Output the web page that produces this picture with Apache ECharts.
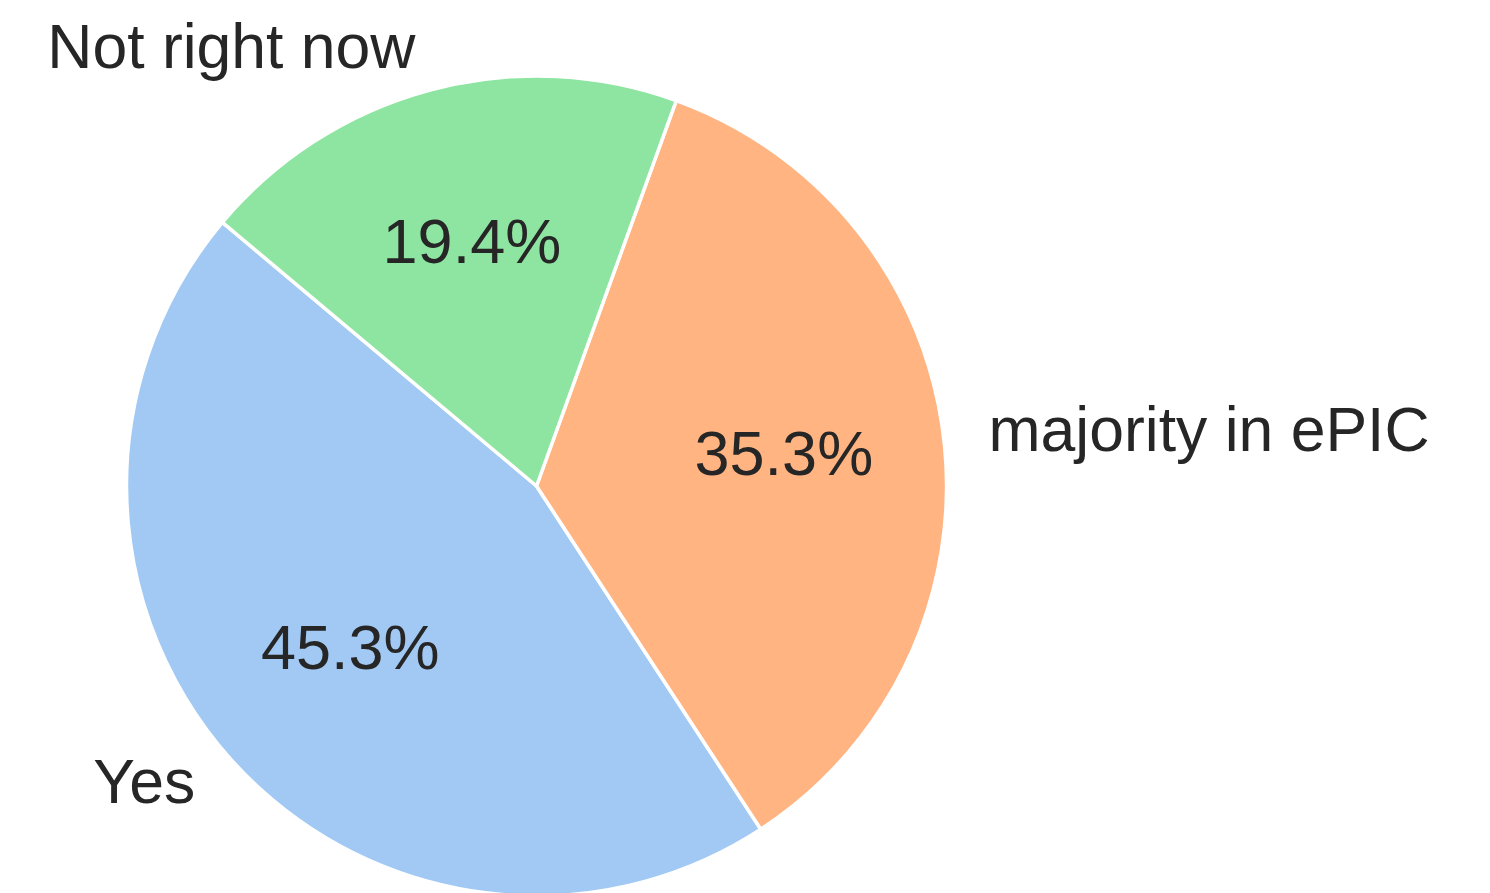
<!DOCTYPE html>
<html>
<head>
<meta charset="utf-8">
<style>
  html, body { margin: 0; padding: 0; background: #ffffff; }
  #chart { width: 1490px; height: 893px; }
</style>
<script src="https://cdn.jsdelivr.net/npm/echarts@6/dist/echarts.min.js"></script>
</head>
<body>
<div id="chart"></div>
<script>
// Data
const categories = ['Yes', 'majority in ePIC', 'Not right now'];
const counts = [63, 49, 27];
const colors = ['#a1c9f4', '#ffb482', '#8de5a1'];

const total = counts.reduce((a, b) => a + b, 0);
const R = 410;
const CENTER = [536.5, 486];
const FONT = 'Liberation Sans, Arial, Helvetica, sans-serif';
const TEXT_COLOR = '#262626';

const mainData = categories.map((c, i) => ({
  name: c, value: counts[i], itemStyle: { color: colors[i] }
}));
const ghostData = categories.map((c, i) => ({ name: c, value: counts[i] }));

const chart = echarts.init(document.getElementById('chart'), null, { renderer: 'canvas' });
chart.setOption({
  animation: false,
  backgroundColor: '#ffffff',
  series: [
    {
      type: 'pie',
      center: CENTER,
      radius: R,
      startAngle: 140,
      clockwise: false,
      avoidLabelOverlap: false,
      silent: true,
      emphasis: { disabled: true, scale: false },
      itemStyle: { borderColor: '#ffffff', borderWidth: 3.5 },
      label: {
        show: true,
        position: 'outside',
        formatter: '{b}',
        fontFamily: FONT,
        fontSize: 62.5,
        color: TEXT_COLOR,
        distanceToLabelLine: 4,
        verticalAlign: 'middle',
        padding: [0, 0, 8, 0]
      },
      labelLine: { show: false, length: R * 0.1, length2: 0 },
      data: mainData
    },
    {
      type: 'pie',
      center: CENTER,
      radius: [R * 0.2, R],
      startAngle: 140,
      clockwise: false,
      avoidLabelOverlap: false,
      silent: true,
      emphasis: { disabled: true, scale: false },
      itemStyle: { color: 'rgba(0,0,0,0)', borderWidth: 0 },
      label: {
        show: true,
        position: 'inside',
        formatter: p => (p.value / total * 100).toFixed(1) + '%',
        fontFamily: FONT,
        fontSize: 63,
        color: TEXT_COLOR,
        padding: [0, 0, 8, 0]
      },
      labelLine: { show: false },
      data: ghostData
    }
  ]
});
</script>
</body>
</html>
